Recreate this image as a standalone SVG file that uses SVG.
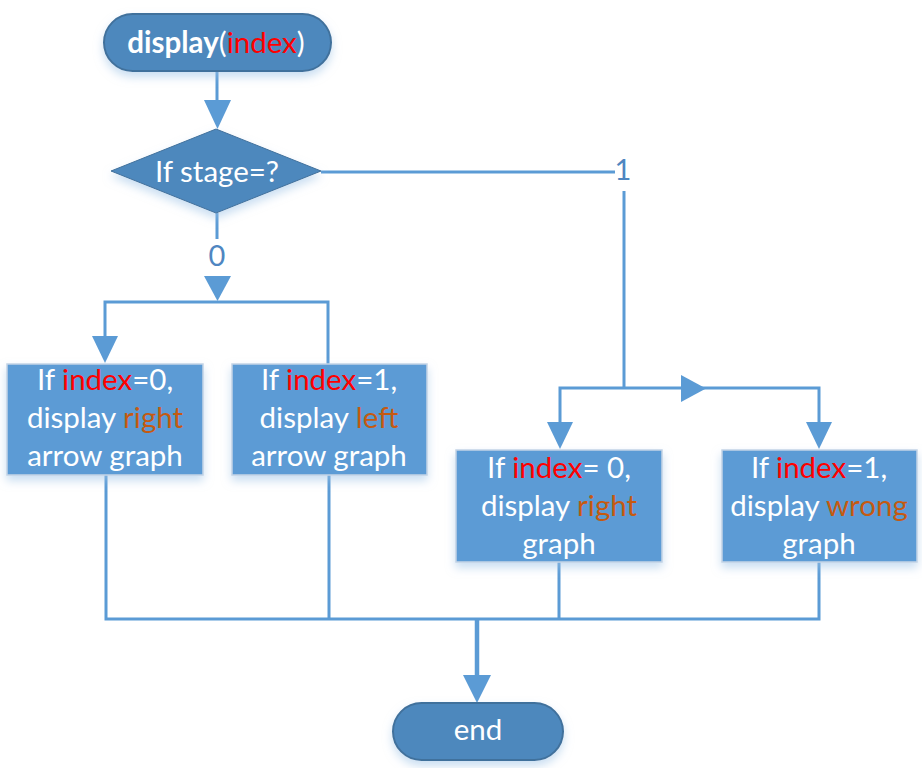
<svg xmlns="http://www.w3.org/2000/svg" width="922" height="768" viewBox="0 0 922 768">
<defs>
<style>
.t{font-family:Lato,"Open Sans","Liberation Sans",sans-serif;font-size:29.5px;fill:#ffffff;text-anchor:middle}
.r{fill:#ff0000}
.o{fill:#c55a11}
.lbl{font-family:Lato,"Open Sans","Liberation Sans",sans-serif;font-size:29px;fill:#4f86c1;text-anchor:middle}
.box{fill:#5b9bd5;stroke:#c4d4e6;stroke-width:1.5}
.term{fill:#4e88bd;stroke:#41719c;stroke-width:2}
.ln{fill:none;stroke:#5b9bd5;stroke-width:3}
.ah{fill:#5b9bd5}
</style>
<filter id="sh" x="-20%" y="-20%" width="140%" height="150%">
<feDropShadow dx="0" dy="5" stdDeviation="5" flood-color="#9dc3e6" flood-opacity="0.55"/>
</filter>
</defs>
<g id="connectors">
<line class="ln" x1="217" y1="71" x2="217" y2="101"/>
<polygon class="ah" points="204,100 231,100 217.5,129"/>
<line class="ln" x1="321" y1="172" x2="615" y2="172"/>
<line class="ln" x1="624" y1="191" x2="624" y2="388"/>
<line class="ln" x1="217" y1="213" x2="217" y2="239"/>
<polygon class="ah" points="204,276 231,276 217.5,301"/>
<path class="ln" d="M105,337 V302 H328 V364"/>
<polygon class="ah" points="92,336 118,336 105,363"/>
<path class="ln" d="M560,423 V388 H819 V423"/>
<polygon class="ah" points="681,375 681,402 706,388.5"/>
<polygon class="ah" points="547,422 573,422 560,449"/>
<polygon class="ah" points="806,422 832,422 819,449"/>
<path class="ln" d="M106,475 V619 H819 V562"/>
<line class="ln" x1="329" y1="475" x2="329" y2="619"/>
<line class="ln" x1="559" y1="562" x2="559" y2="619"/>
<line class="ln" style="stroke-width:4.5" x1="477" y1="619" x2="477" y2="677"/>
<polygon class="ah" points="463,675 491,675 477,703"/>
<text class="lbl" x="623" y="180">1</text>
<text class="lbl" x="217" y="266">0</text>
</g>
<g id="start">
<rect class="term" filter="url(#sh)" x="104" y="14" width="227" height="57" rx="28.5"/>
<text class="t" x="216" y="53"><tspan font-weight="bold">display</tspan>(<tspan class="r">index</tspan>)</text>
</g>
<g id="decision">
<polygon class="term" filter="url(#sh)" style="stroke-width:1" points="216,129 321,171 216,213 111,171"/>
<text class="t" x="217" y="182">If stage=?</text>
</g>
<g id="box1">
<rect class="box" filter="url(#sh)" x="7" y="364" width="196" height="111"/>
<text class="t" x="105" y="390">If <tspan class="r">index</tspan>=0,</text>
<text class="t" x="105" y="428">display <tspan class="o">right</tspan></text>
<text class="t" x="105" y="466">arrow graph</text>
</g>
<g id="box2">
<rect class="box" filter="url(#sh)" x="232" y="364" width="195" height="111"/>
<text class="t" x="329" y="390">If <tspan class="r">index</tspan>=1,</text>
<text class="t" x="329" y="428">display <tspan class="o">left</tspan></text>
<text class="t" x="329" y="466">arrow graph</text>
</g>
<g id="box3">
<rect class="box" filter="url(#sh)" x="456" y="450" width="206" height="112"/>
<text class="t" x="559" y="478">If <tspan class="r">index</tspan>= 0,</text>
<text class="t" x="559" y="516">display <tspan class="o">right</tspan></text>
<text class="t" x="559" y="554">graph</text>
</g>
<g id="box4">
<rect class="box" filter="url(#sh)" x="722" y="450" width="195" height="112"/>
<text class="t" x="819" y="478">If <tspan class="r">index</tspan>=1,</text>
<text class="t" x="819" y="516">display <tspan class="o">wrong</tspan></text>
<text class="t" x="819" y="554">graph</text>
</g>
<g id="end">
<rect class="term" filter="url(#sh)" x="393" y="703" width="170" height="57" rx="28.5"/>
<text class="t" x="478" y="740">end</text>
</g>
</svg>
